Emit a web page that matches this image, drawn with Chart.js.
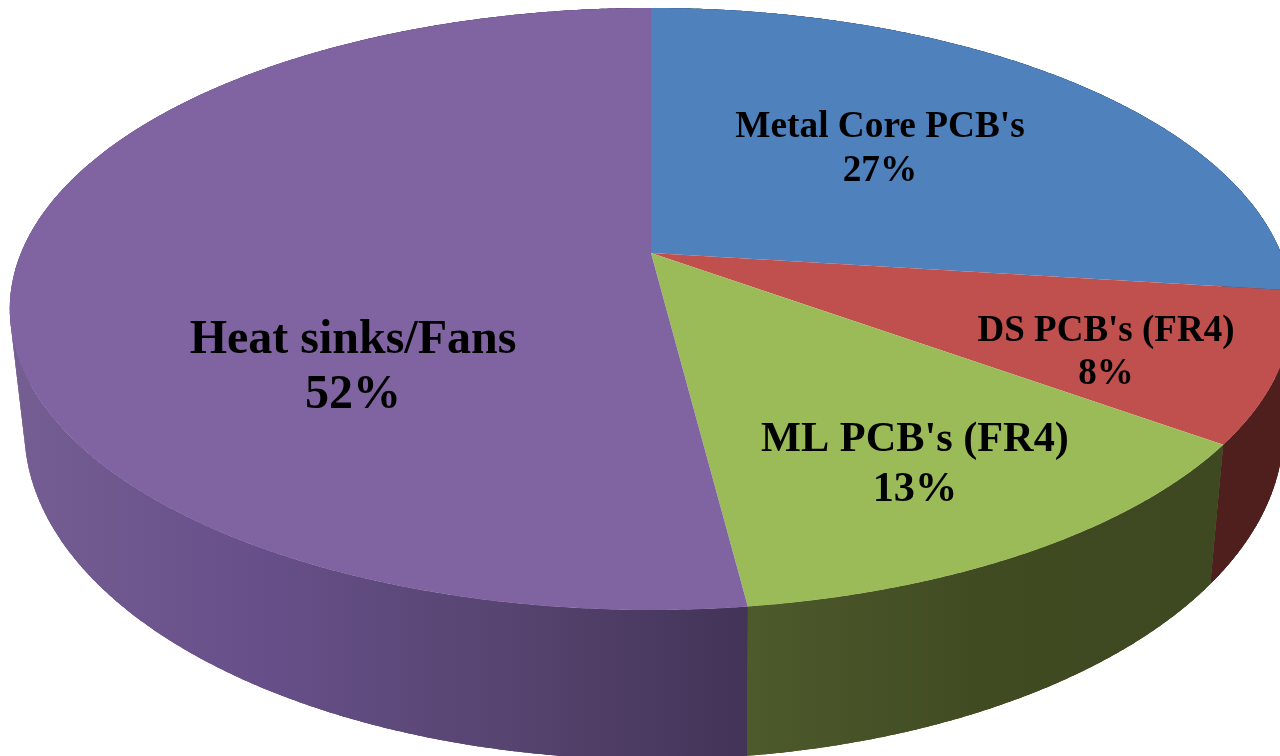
<!DOCTYPE html>
<html lang="en">
  <head>
    <meta charset="utf-8">
    <title>Thermal solutions share</title>
    <style> body {padding: 0; margin: 0; background: #fff;} canvas {display: block;} </style>
    <script src="https://cdn.jsdelivr.net/npm/chart.js@4/dist/chart.umd.js"></script>
  </head>
  <body>
    <canvas id="pieChart" width="1280" height="756"></canvas>
    <script>
      const categories = ["Metal Core PCB's", "DS PCB's (FR4)", "ML PCB's (FR4)", "Heat sinks/Fans"];
      const shares = [27, 8, 13, 52];
      const topColors = ['#4f81bd', '#c0504d', '#9bbb59', '#8064a2'];

      // side wall shades, left to right
      const wallColors = [['#2c4a70', '#2c4a70'], ['#4f1f1e', '#4f1f1e'], ['#4d5a2b', '#404b22', '#3e4821'], ['#755e92', '#67508a', '#574470', '#433357']];

      // label centre x, baseline of name, baseline of percent, font px
      const labelSpots = [[880, 137, 181, 37.3], [1106, 341, 384, 37], [915, 451, 501, 42.3], [353, 353, 408, 48]];

      // top face and bottom rim of the disc, seen in perspective
      const topRim = {cx: 651, cy: 253, a: 630, b: 290.6, k: 0.186};
      const bottomRim = {cx: 654, cy: 375, a: 621, b: 321, k: 0.165};

      function project(rim, angle) {
        // chart.js angles start at -PI/2, so turn them to clockwise from the top
        const t = angle + Math.PI / 2;
        const u = Math.sin(t);
        const v = -Math.cos(t);
        const w = 1 - rim.k * v;
        return {x: rim.cx + rim.a * u / w, y: rim.cy + rim.b * v / w};
      }

      function wallFill(ctx, i) {
        const stops = wallColors[i];
        const from = i == 3 ? 10 : 750;
        const to = i == 3 ? 750 : 1210;
        const grad = ctx.createLinearGradient(from, 0, to, 0);
        stops.forEach((c, n) => grad.addColorStop(n / (stops.length - 1), c));
        return grad;
      }

      function rimPath(ctx, rim, arc, reverse) {
        const span = arc.endAngle - arc.startAngle;
        const steps = Math.ceil(span * 120);
        for (let s = 0; s <= steps; s++) {
          const p = project(rim, arc.startAngle + span * (reverse ? steps - s : s) / steps);
          ctx.lineTo(p.x, p.y);
        }
      }

      const tiltedPie = {
        id: 'tiltedPie',
        beforeDatasetDraw() {
          return false;  // the arcs get drawn tilted below instead
        },
        afterDatasetsDraw(chart) {
          const ctx = chart.ctx;
          const arcs = chart.getDatasetMeta(0).data;

          // walls: overlapping strips fill the fold at the far left and right
          arcs.forEach((arc, i) => {
            const span = arc.endAngle - arc.startAngle;
            const steps = Math.ceil(span * 60);
            ctx.fillStyle = wallFill(ctx, i);
            for (let s = 0; s < steps; s++) {
              const a0 = arc.startAngle + span * s / steps;
              const a1 = arc.startAngle + span * (s + 1.5) / steps;
              const end = Math.min(a1, arc.endAngle);
              ctx.beginPath();
              rimPath(ctx, topRim, {startAngle: a0, endAngle: end}, false);
              rimPath(ctx, bottomRim, {startAngle: a0, endAngle: end}, true);
              ctx.closePath();
              ctx.fill();
            }
          });
          // then one clean band per slice on top of the strips
          arcs.forEach((arc, i) => {
            ctx.beginPath();
            rimPath(ctx, topRim, arc, false);
            rimPath(ctx, bottomRim, arc, true);
            ctx.closePath();
            ctx.fillStyle = wallFill(ctx, i);
            ctx.fill();
          });

          // top face
          arcs.forEach(arc => {
            ctx.beginPath();
            ctx.moveTo(topRim.cx, topRim.cy);
            rimPath(ctx, topRim, arc, false);
            ctx.closePath();
            ctx.fillStyle = arc.options.backgroundColor;
            ctx.fill();
          });

          // labels
          ctx.fillStyle = '#000';
          ctx.textAlign = 'center';
          ctx.textBaseline = 'alphabetic';
          categories.forEach((name, i) => {
            const spot = labelSpots[i];
            ctx.font = 'bold ' + spot[3] + 'px "Liberation Serif"';
            ctx.fillText(name, spot[0], spot[1]);
            ctx.fillText(shares[i] + '%', spot[0], spot[2]);
          });
        }
      };

      new Chart(document.getElementById('pieChart').getContext('2d'), {
        type: 'pie',
        data: {
          labels: categories,
          datasets: [{data: shares, backgroundColor: topColors, borderWidth: 0}]
        },
        options: {
          responsive: false,
          devicePixelRatio: 1,
          animation: false,
          plugins: {legend: {display: false}, tooltip: {enabled: false}}
        },
        plugins: [tiltedPie]
      });
    </script>
  </body>
</html>
